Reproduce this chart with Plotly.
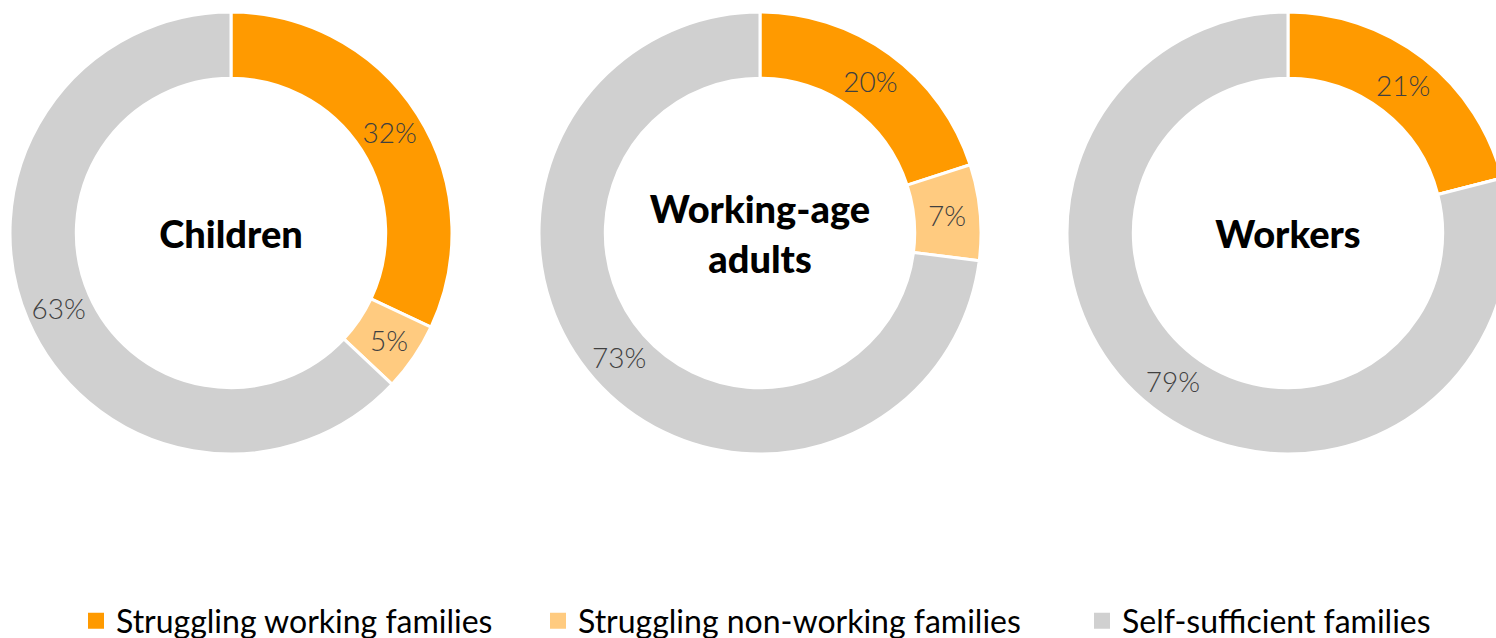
import plotly.graph_objects as go

# Shares of each group by family self-sufficiency status (percent)
groups = ["Children", "Working-age<br>adults", "Workers"]
categories = ["Struggling working families", "Struggling non-working families", "Self-sufficient families"]
children = [32, 5, 63]
working_age_adults = [20, 7, 73]
workers = [21, 0, 79]
colors = ["#FF9A00", "#FFCB80", "#D0D0D0"]

W, H = 1520, 638
R = 221          # half-size of each pie domain in px
cy = 233         # vertical centre of the rings (px from top)
centers_x = [231, 760, 1288]

fig = go.Figure()

for name, vals, cx in zip(groups, [children, working_age_adults, workers], centers_x):
    fig.add_trace(go.Pie(
        labels=categories,
        values=vals,
        text=[f"{v}%" if v else "" for v in vals],
        textinfo="text",
        textposition="inside",
        insidetextorientation="horizontal",
        textfont=dict(family="Lato", size=28, color="#404040", weight=300),
        hole=0.70,
        sort=False,
        direction="clockwise",
        rotation=0,
        marker=dict(colors=colors, line=dict(color="white", width=3)),
        domain=dict(x=[(cx - R) / W, (cx + R) / W],
                    y=[(H - cy - R) / H, (H - cy + R) / H]),
        title=dict(text=name, position="middle center",
                   font=dict(family="Lato", size=38, color="black", weight=900)),
        showlegend=False,
        hoverinfo="label+percent",
    ))

# Legend entries, each in its own legend box so they can be spaced freely
legend_x = [76, 538, 1082]
for i, (cat, col, lx) in enumerate(zip(categories, colors, legend_x)):
    key = "legend" if i == 0 else f"legend{i + 1}"
    fig.add_trace(go.Scatter(
        x=[None], y=[None], mode="markers", name=cat,
        marker=dict(symbol="square", size=16, color=col),
        legend=key, showlegend=True,
    ))
    fig.update_layout({key: dict(
        x=lx / W, y=(H - 621) / H, xanchor="left", yanchor="middle",
        orientation="h", bgcolor="rgba(0,0,0,0)",
        font=dict(family="Lato", size=32, color="black"),
    )})

fig.update_layout(
    width=W, height=H,
    margin=dict(l=0, r=0, t=0, b=0, autoexpand=False),
    paper_bgcolor="white", plot_bgcolor="white",
    xaxis=dict(visible=False), yaxis=dict(visible=False),
    uniformtext=dict(minsize=28, mode="show"),
)

fig.write_html(
    "out.html",
    post_script="document.documentElement.style.overflow='hidden';document.body.style.overflow='hidden';document.body.style.margin='0';",
)
